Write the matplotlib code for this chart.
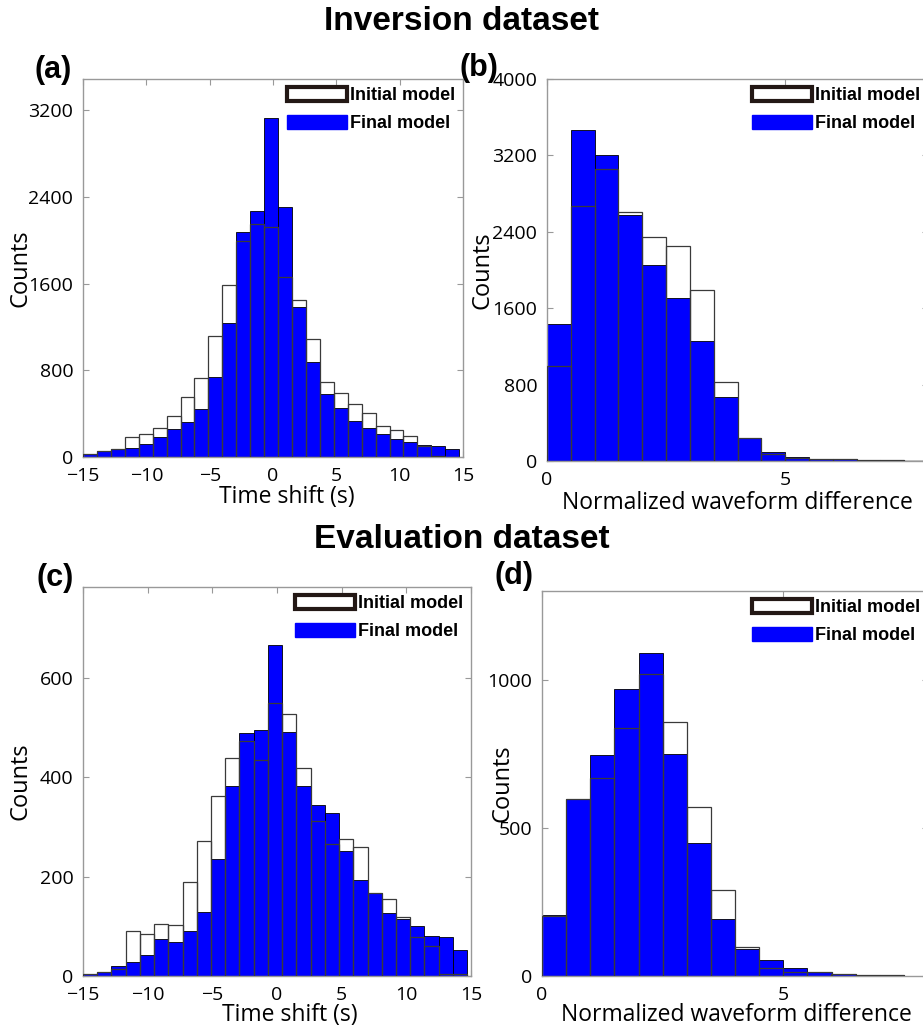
import numpy as np
import matplotlib.pyplot as plt
from matplotlib.patches import Patch

# Time-shift histograms: 27 bins of 1.1 s starting at -15 s
shift_edges = -15 + 1.1 * np.arange(28)
# Waveform-difference histograms: 0.5-wide bins starting at 0
wave_edges = 0.5 * np.arange(17)
wave_edges_eval = 0.5 * np.arange(16)

inv_shift_initial = [25, 52, 74, 188, 215, 271, 382, 557, 732, 1120, 1591, 1991, 2154, 2126,
                     1662, 1452, 1092, 692, 591, 492, 406, 283, 252, 197, 105, 8, 4]
inv_shift_final = [25, 52, 71, 80, 120, 182, 258, 320, 446, 735, 1234, 2080, 2274, 3132,
                   2308, 1385, 877, 585, 452, 329, 268, 215, 169, 138, 108, 102, 77]

inv_wave_initial = [992, 2672, 3057, 2603, 2344, 2253, 1792, 824, 238, 73, 35, 21, 20, 10, 8, 3]
inv_wave_final = [1436, 3469, 3207, 2578, 2054, 1712, 1261, 674, 238, 91, 45, 21, 20, 10, 8, 3]

eval_shift_initial = [5, 9, 15, 91, 85, 105, 103, 189, 272, 362, 439, 474, 434, 550,
                      527, 419, 311, 266, 276, 260, 168, 154, 119, 79, 60, 5, 4]
eval_shift_final = [5, 9, 20, 28, 42, 74, 68, 91, 128, 236, 382, 489, 495, 666,
                    491, 383, 344, 329, 251, 193, 168, 126, 115, 101, 80, 78, 52]

eval_wave_initial = [203, 598, 669, 837, 1020, 856, 570, 289, 99, 28, 12, 15, 7, 3, 2]
eval_wave_final = [207, 598, 747, 969, 1089, 748, 448, 194, 90, 54, 26, 12, 7, 3, 2]

BLUE = '#0000ff'
TICK_FONT = ['Open Sans', 'DejaVu Sans']
BOLD_FONT = ['Liberation Sans', 'DejaVu Sans']

W, H = 923, 1027
fig = plt.figure(figsize=(W / 100, H / 100), dpi=100)


def px_axes(left, top, right, bottom):
    return fig.add_axes([left / W, 1 - bottom / H, (right - left) / W, (bottom - top) / H])


def draw_hist(ax, edges, initial, final, xlim, ylim, yticks, xticks,
              xlabel, xlabel_pos, xlabel_size, ylabel_x):
    widths = np.diff(edges)
    ax.bar(edges[:-1], final, width=widths, align='edge', color=BLUE,
           edgecolor='black', linewidth=0.6, zorder=2)
    ax.bar(edges[:-1], initial, width=widths, align='edge', fill=False,
           edgecolor='#3a3a3a', linewidth=0.9, zorder=3)
    ax.set_xlim(*xlim)
    ax.set_ylim(*ylim)
    ax.set_xticks(xticks)
    ax.set_yticks(yticks)
    ax.tick_params(direction='in', length=4, color='#999999', labelsize=14,
                   top=True, right=True)
    ax.tick_params(axis='x', pad=7)
    ax.tick_params(axis='y', pad=7)
    for lab in ax.get_xticklabels() + ax.get_yticklabels():
        lab.set_family(TICK_FONT)
    for sp in ax.spines.values():
        sp.set_color('#999999')
        sp.set_linewidth(1.0)
    ax.set_xlabel(xlabel, fontsize=xlabel_size, family=TICK_FONT)
    ax.xaxis.set_label_coords(*xlabel_pos)
    ax.set_ylabel('Counts', fontsize=17, family=TICK_FONT)
    ax.yaxis.set_label_coords(ylabel_x, 0.5)
    handles = [Patch(facecolor='white', edgecolor='#231815', linewidth=3, label='Initial model'),
               Patch(facecolor=BLUE, edgecolor=BLUE, label='Final model')]
    ax.legend(handles=handles, loc='upper right', frameon=False, handlelength=3.3,
              handleheight=0.8, handletextpad=0.15, labelspacing=0.6, borderaxespad=0.05,
              prop={'family': BOLD_FONT, 'weight': 'bold', 'size': 13})


ax_a = px_axes(83, 79, 463, 457)
draw_hist(ax_a, shift_edges, inv_shift_initial, inv_shift_final, (-15, 15), (0, 3490),
          [0, 800, 1600, 2400, 3200], [-15, -10, -5, 0, 5, 10, 15],
          'Time shift (s)', (0.537, -0.074), 16.5, -0.134)

ax_b = px_axes(547, 79, 928, 461)
draw_hist(ax_b, wave_edges, inv_wave_initial, inv_wave_final, (0, 8), (0, 4000),
          [0, 800, 1600, 2400, 3200, 4000], [0, 5],
          'Normalized waveform difference', (0.499, -0.078), 16.5, -0.139)

ax_c = px_axes(83, 587, 471, 976)
draw_hist(ax_c, shift_edges, eval_shift_initial, eval_shift_final, (-15, 15), (0, 783),
          [0, 200, 400, 600], [-15, -10, -5, 0, 5, 10, 15],
          'Time shift (s)', (0.533, -0.069), 16.5, -0.131)

ax_d = px_axes(542, 591, 928, 976)
draw_hist(ax_d, wave_edges_eval, eval_wave_initial, eval_wave_final, (0, 8), (0, 1300),
          [0, 500, 1000], [0, 5],
          'Normalized waveform difference', (0.505, -0.071), 16.5, -0.07)

# Section titles and panel letters
fig.text(462 / W, 1 - 22 / H, 'Inversion dataset', ha='center', va='center',
         fontsize=24, weight='bold', family=BOLD_FONT)
fig.text(462 / W, 1 - 540 / H, 'Evaluation dataset', ha='center', va='center',
         fontsize=24, weight='bold', family=BOLD_FONT)
for x, y, s in [(53, 70, '(a)'), (479, 68, '(b)'), (55, 578, '(c)'), (514, 576, '(d)')]:
    fig.text(x / W, 1 - y / H, s, ha='center', va='center', fontsize=22,
             weight='bold', family=BOLD_FONT)

fig.savefig('out.png', dpi=100)
